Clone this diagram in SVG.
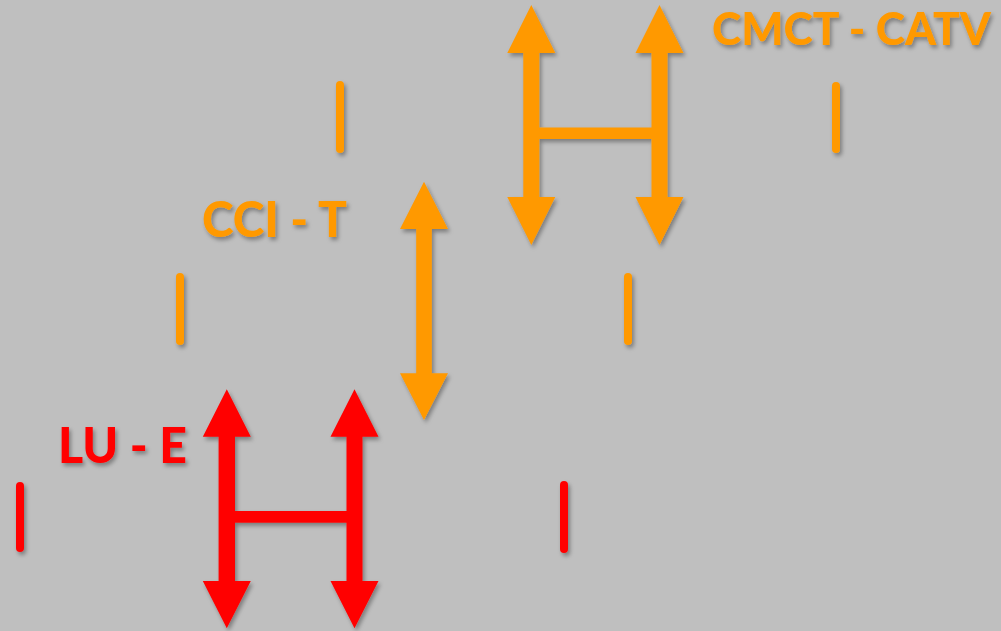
<svg xmlns="http://www.w3.org/2000/svg" width="1001" height="631" viewBox="0 0 1001 631">
  <defs>
    <filter id="sh" x="-20%" y="-20%" width="140%" height="140%">
      <feDropShadow dx="2" dy="3" stdDeviation="2" flood-color="#000" flood-opacity="0.35"/>
    </filter>
    <filter id="shl" filterUnits="userSpaceOnUse" x="0" y="0" width="1001" height="631">
      <feDropShadow dx="2" dy="3" stdDeviation="2" flood-color="#000" flood-opacity="0.35"/>
    </filter>
    <style>
      .or { fill: #ff9900; }
      .rd { fill: #ff0000; }
      .lbl { font-family: Lato, "Open Sans", "DejaVu Sans", sans-serif; font-weight: 900; font-size: 49px; }
      .sm { font-size: 46px; }
    </style>
  </defs>
  <rect width="1001" height="631" fill="#bfbfbf"/>

  <g id="connectors">
    <g id="h-orange" class="or" filter="url(#sh)">
      <path d="M531.3,5 L555.3,53 L539.3,53 L539.3,197 L555.3,197 L531.3,245 L507.3,197 L523.3,197 L523.3,53 L507.3,53 Z"/>
      <path d="M659.5,5 L683.5,53 L667.5,53 L667.5,197 L683.5,197 L659.5,245 L635.5,197 L651.5,197 L651.5,53 L635.5,53 Z"/>
      <rect x="535" y="127.5" width="120" height="11.5"/>
    </g>
    <g id="arrow-orange" class="or" filter="url(#sh)">
      <path d="M424,181.7 L448,229 L431.8,229 L431.8,373.3 L448,373.3 L424,420 L400,373.3 L416.2,373.3 L416.2,229 L400,229 Z"/>
    </g>
    <g id="h-red" class="rd" filter="url(#sh)">
      <path d="M226.8,389.3 L250.8,436.7 L235,436.7 L235,581 L250.8,581 L226.8,628.3 L202.8,581 L218.6,581 L218.6,436.7 L202.8,436.7 Z"/>
      <path d="M354.5,389.3 L378.5,436.7 L362.5,436.7 L362.5,581 L378.5,581 L354.5,628.3 L330.5,581 L346.5,581 L346.5,436.7 L330.5,436.7 Z"/>
      <rect x="230" y="511" width="121" height="11.7"/>
    </g>
  </g>

  <g id="tick-orange-1" filter="url(#shl)"><rect class="or" x="336" y="81" width="8" height="72" rx="4"/></g>
  <g id="tick-orange-2" filter="url(#shl)"><rect class="or" x="832" y="82" width="8" height="71" rx="4"/></g>
  <g id="tick-orange-3" filter="url(#shl)"><rect class="or" x="176" y="273" width="8" height="72" rx="4"/></g>
  <g id="tick-orange-4" filter="url(#shl)"><rect class="or" x="624" y="273" width="8" height="72" rx="4"/></g>
  <g id="tick-red-1" filter="url(#shl)"><rect class="rd" x="16" y="482" width="8" height="70" rx="4"/></g>
  <g id="tick-red-2" filter="url(#shl)"><rect class="rd" x="560" y="481" width="8" height="72" rx="4"/></g>

  <g id="label-cmct" filter="url(#shl)"><text class="lbl sm or" x="712" y="45" textLength="279" lengthAdjust="spacingAndGlyphs">CMCT - CATV</text></g>
  <g id="label-cci" filter="url(#shl)"><text class="lbl or" x="202" y="237" textLength="145" lengthAdjust="spacingAndGlyphs">CCI - T</text></g>
  <g id="label-lu" filter="url(#shl)"><text class="lbl rd" x="58" y="463" textLength="129" lengthAdjust="spacingAndGlyphs">LU - E</text></g>
</svg>
